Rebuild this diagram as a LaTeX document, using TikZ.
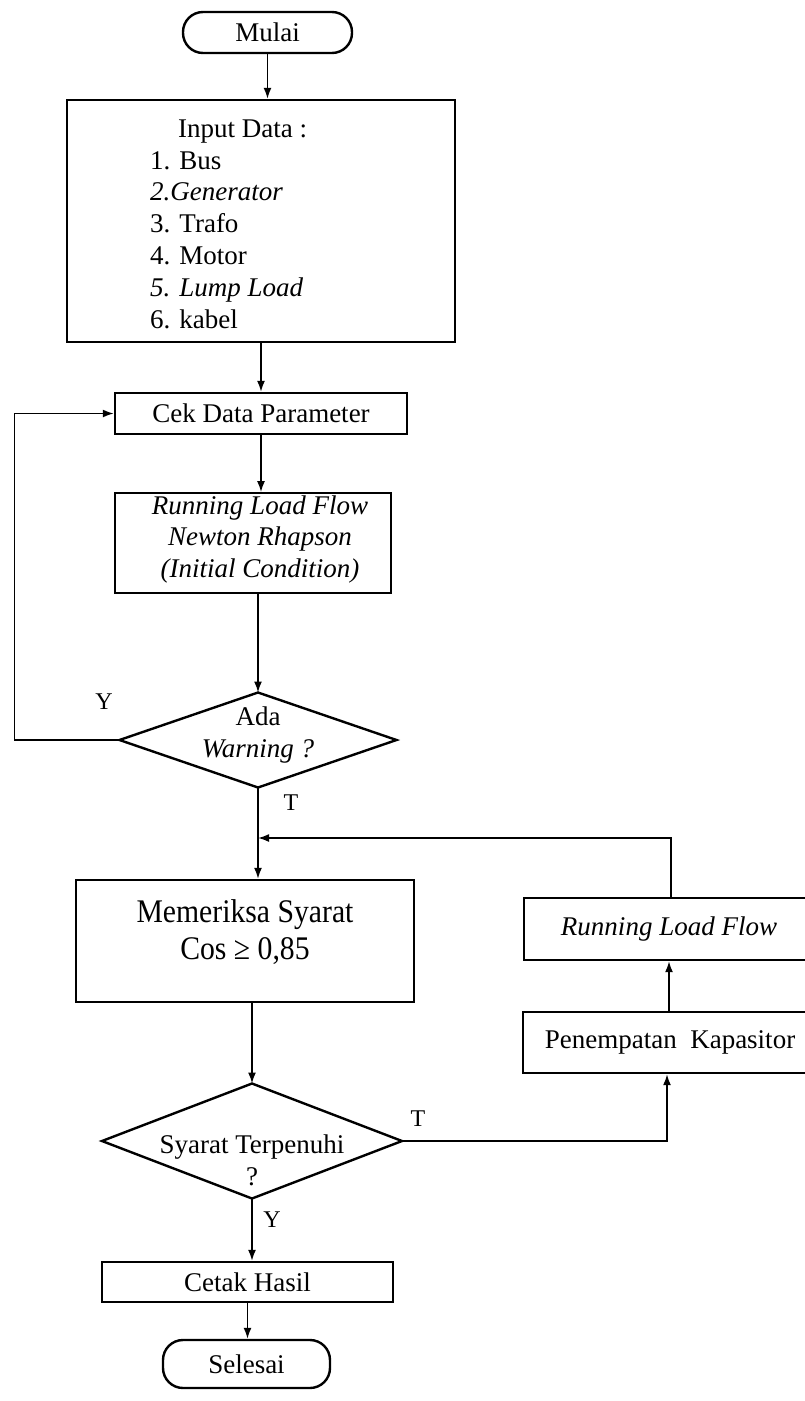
\documentclass[tikz,border=0pt]{standalone}
\usepackage{fontspec}
\setmainfont{Liberation Serif}
\newfontfamily\condfont{Liberation Serif}[FakeStretch=0.9]
\usetikzlibrary{shapes.geometric,arrows.meta}
\begin{document}
\begin{tikzpicture}[x=1pt,y=-1pt,
  txt/.style={font=\fontsize{27}{32}\selectfont, inner sep=0pt},
  bigtxt/.style={font=\condfont\fontsize{33}{37}\selectfont, inner sep=0pt},
  lbl/.style={font=\fontsize{24}{28}\selectfont, inner sep=0pt},
  stepbox/.style={draw, line width=2.4pt, inner sep=0pt, minimum width=#1},
  termbox/.style={draw, line width=2.4pt, rounded corners=20pt, inner sep=0pt},
  decbox/.style={draw, diamond, line width=2.4pt, inner sep=0pt, outer sep=0pt},
  conn/.style={line width=1.7pt},
  arr/.style={conn, -{Latex[length=11pt,width=8pt]}}]
\useasboundingbox (0,0) rectangle (805,1401);

% start
\node[termbox, minimum width=169pt, minimum height=41pt, txt] (mulai) at (267.5,32.5) {Mulai};

% input data
\node[stepbox=388pt, minimum height=242pt] (inp) at (261,221) {};
\node[txt, anchor=west, align=left, font=\fontsize{27}{31.8}\selectfont] (inptext) at (150,224)
  {\hspace*{28pt}Input Data :\\
   1. Bus\\
   \textit{2.Generator}\\
   3. Trafo\\
   4. Motor\\
   \textit{5. Lump Load}\\
   6. kabel};

% cek data
\node[stepbox=292pt, minimum height=41pt, txt] (cek) at (261,413.5) {Cek Data Parameter};

% running load flow NR
\node[stepbox=276pt, minimum height=100pt, line width=1.8pt] (rlf1) at (253,543) {};
\node[txt, align=center, font=\fontsize{27}{31.5}\itshape] (rlf1text) at (260,539)
  {Running Load Flow\\ Newton Rhapson\\ (Initial Condition)};

% decision ada warning
\node[decbox, minimum width=277pt, minimum height=95pt] (ada) at (258,740) {};
\node[txt, align=center] (adatext) at (258,735) {Ada\\ \textit{Warning ?}};

% memeriksa syarat
\node[stepbox=338pt, minimum height=122pt] (mem) at (245,941) {};
\node[bigtxt, align=center] (memtext) at (245,932) {Memeriksa Syarat\\ Cos ≥ 0,85};

% decision syarat terpenuhi
\node[decbox, minimum width=300pt, minimum height=115pt] (syr) at (252,1141) {};
\node[txt, align=center] (syrtext) at (252,1160) {Syarat Terpenuhi\\ ?};

% cetak hasil
\node[stepbox=291pt, minimum height=40pt, txt] (cetak) at (247.5,1282) {Cetak Hasil};

% selesai
\node[termbox, minimum width=167pt, minimum height=48pt, txt] (selesai) at (246.5,1364) {Selesai};

% right column
\node[stepbox=291pt, minimum height=62pt] (rlf2) at (669.5,929) {};
\node[txt, font=\fontsize{27}{32}\itshape] (rlf2text) at (669,929) {Running Load Flow};
\node[stepbox=292pt, minimum height=61pt] (pen) at (669,1042.5) {};
\node[txt] (pentext) at (670,1042.5) {Penempatan\ \ Kapasitor};

% labels
\node[lbl] (y1) at (104,702) {Y};
\node[lbl] (t1) at (291,803) {T};
\node[lbl] (t2) at (418,1119) {T};
\node[lbl] (y2) at (272,1220) {Y};

\coordinate (j) at (258,838);

% connectors
\draw[arr] (mulai.south) -- (mulai.south |- inp.north);
\draw[arr] (inp.south) -- (inp.south |- cek.north);
\draw[arr] (cek.south) -- (cek.south |- rlf1.north);
\draw[arr] (ada.north |- rlf1.south) -- (ada.north);
\draw[arr] (ada.west) -- ++(-105,0) |- (cek.west);
\draw[arr] (ada.south) -- (ada.south |- mem.north);
\draw[arr] ([xshift=1.5pt]rlf2.north) |- (j);
\draw[arr] (syr.north |- mem.south) -- (syr.north);
\draw[arr] (syr.east) -| ([xshift=-2pt]pen.south);
\draw[arr] (pen.north) -- (pen.north |- rlf2.south);
\draw[arr] (syr.south) -- (syr.south |- cetak.north);
\draw[arr] (cetak.south) -- (cetak.south |- selesai.north);
\end{tikzpicture}
\end{document}
